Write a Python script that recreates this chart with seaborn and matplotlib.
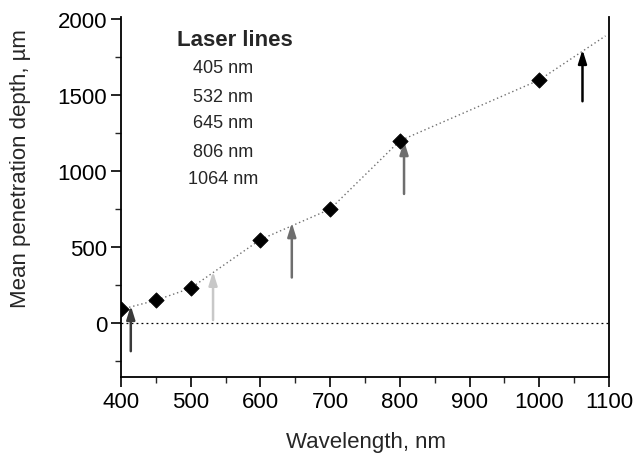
import matplotlib
matplotlib.use("Agg")
import matplotlib.pyplot as plt
import seaborn as sns
import pandas as pd
from matplotlib.ticker import MultipleLocator

# Data
wavelength = [400, 450, 500, 600, 700, 800, 1000]
depth = [90, 150, 230, 550, 750, 1200, 1600]
trend_x = [400, 450, 500, 600, 700, 800, 1000, 1095]
trend_y = [90, 150, 230, 550, 750, 1200, 1600, 1890]
laser_labels = ["405 nm", "532 nm", "645 nm", "806 nm", "1064 nm"]
arrow_x = [414, 532, 645, 806, 1062]
arrow_tail = [-185, 20, 300, 850, 1460]
arrow_head = [115, 340, 660, 1200, 1800]
arrow_colors = ["#3a3a3a", "#c8c8c8", "#6e6e6e", "#6e6e6e", "#000000"]

sns.set_style("ticks")
plt.rcParams["font.family"] = ["Liberation Sans", "DejaVu Sans"]

fig = plt.figure(figsize=(6.37, 4.56), dpi=100)
ax = fig.add_axes([0.19, 0.171, 0.766, 0.789])

df_trend = pd.DataFrame({"x": trend_x, "y": trend_y})
df_pts = pd.DataFrame({"x": wavelength, "y": depth})

sns.lineplot(data=df_trend, x="x", y="y", ax=ax, color="#707070",
             linestyle=(0, (1, 2)), linewidth=1.0)
ax.axhline(0, color="black", linestyle=(0, (1.5, 2.5)), linewidth=0.9)
sns.scatterplot(data=df_pts, x="x", y="y", ax=ax, marker="D", color="black",
                s=60, edgecolor="black", zorder=5)

for xv, t, h, c in zip(arrow_x, arrow_tail, arrow_head, arrow_colors):
    ax.annotate("", xy=(xv, h), xytext=(xv, t),
                arrowprops=dict(arrowstyle="-|>,head_length=0.8,head_width=0.25",
                                color=c, lw=1.8, shrinkA=0, shrinkB=0),
                zorder=4)

ax.text(0.234, 0.939, "Laser lines", transform=ax.transAxes, fontsize=16,
        fontweight="bold", ha="center", va="center")
ys = [0.861, 0.781, 0.708, 0.628, 0.553]
for lab, yy in zip(laser_labels, ys):
    ax.text(0.209, yy, lab, transform=ax.transAxes, fontsize=13,
            ha="center", va="center")

ax.set_xlim(400, 1100)
ax.set_ylim(-355, 2013)
ax.xaxis.set_major_locator(MultipleLocator(100))
ax.xaxis.set_minor_locator(MultipleLocator(50))
ax.yaxis.set_major_locator(MultipleLocator(500))
ax.yaxis.set_minor_locator(MultipleLocator(250))
ax.tick_params(axis="both", which="major", direction="out", length=7,
               width=1.2, labelsize=16, colors="black", pad=3)
ax.tick_params(axis="both", which="minor", direction="out", length=4, width=1.0)
ax.tick_params(axis="y", right=False)

for s in ["left", "bottom", "right"]:
    ax.spines[s].set_visible(True)
    ax.spines[s].set_linewidth(1.3)
    ax.spines[s].set_color("black")
ax.spines["top"].set_visible(False)

ax.set_xlabel("Wavelength, nm", fontsize=16)
ax.set_ylabel("Mean penetration depth, \u00b5m", fontsize=16)
ax.xaxis.set_label_coords(0.502, -0.178)
ax.yaxis.set_label_coords(-0.207, 0.583)
ax.xaxis.label.set_va("center")
ax.yaxis.label.set_va("center")

fig.savefig("out.png", dpi=100)
